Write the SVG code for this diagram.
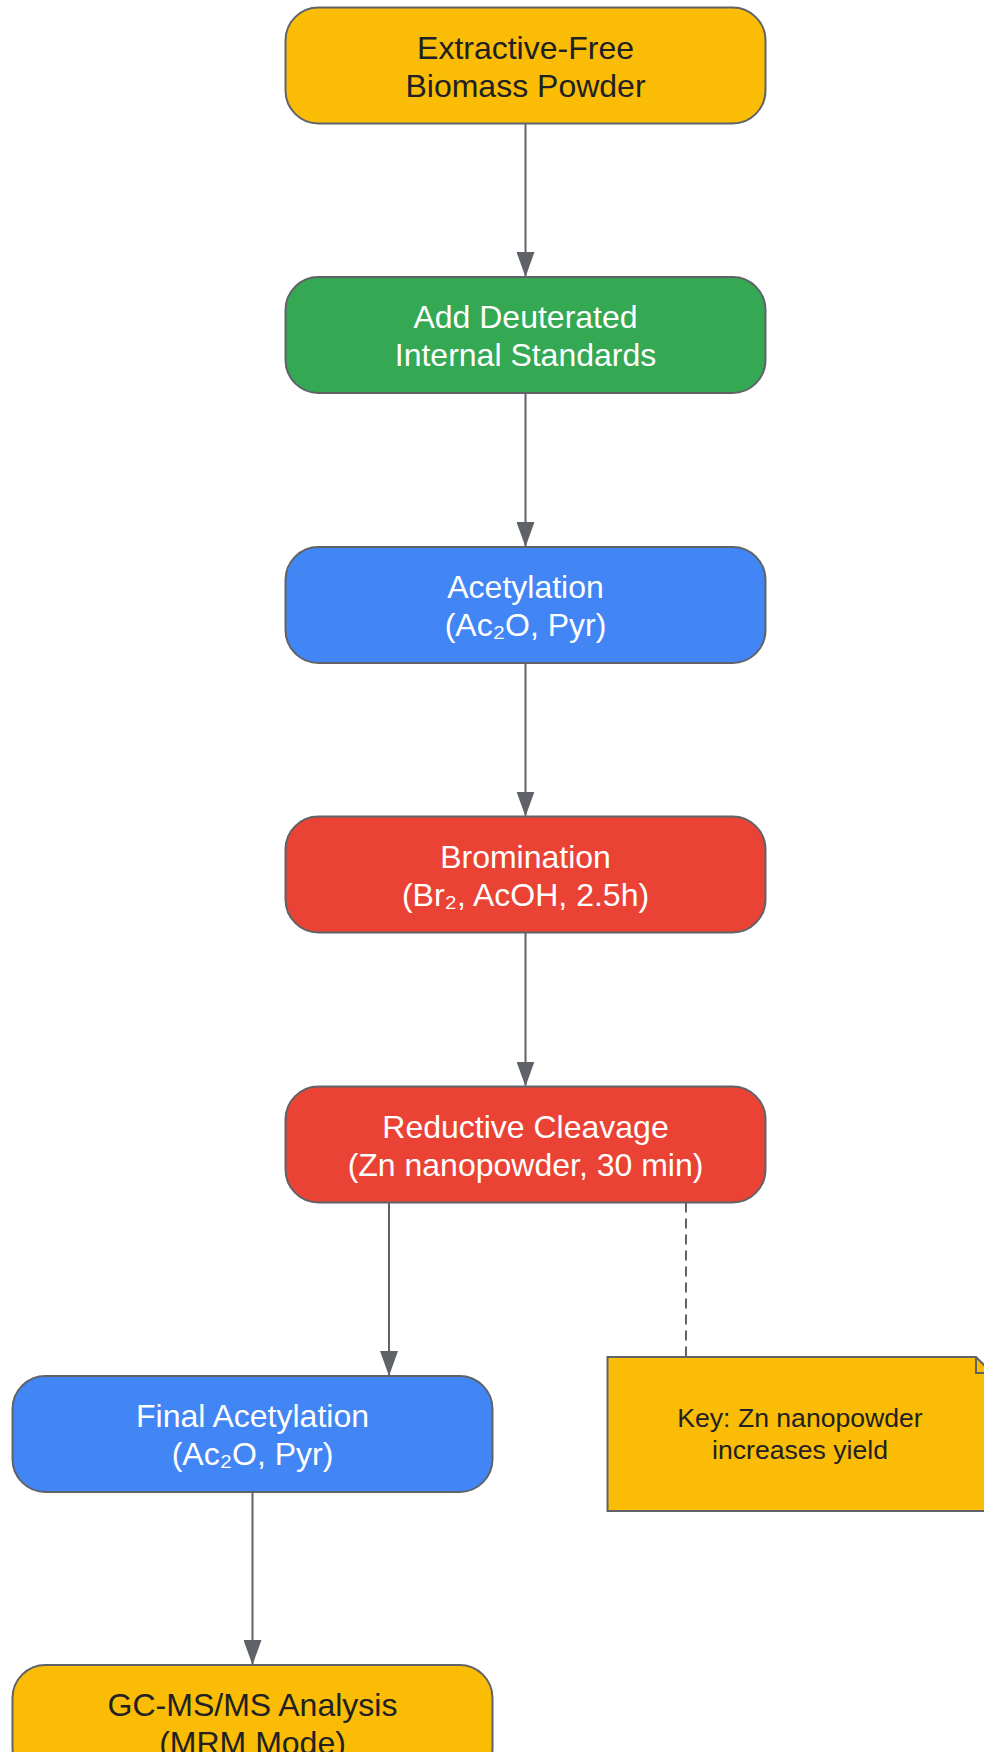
<svg xmlns="http://www.w3.org/2000/svg" width="984" height="1752" viewBox="0 0 984 1752">
<style>
.box{stroke:#5f6368;stroke-width:2}
.yellow{fill:#FBBC05}
.green{fill:#34A853}
.blue{fill:#4285F4}
.red{fill:#EA4335}
.t{font-family:"Liberation Sans",Arial,sans-serif;font-size:32px;text-anchor:middle}
.dark{fill:#202124}
.light{fill:#ffffff}
.nt{font-family:"Liberation Sans",Arial,sans-serif;font-size:26.6px;text-anchor:middle;fill:#202124}
.edge{stroke:#5f6368;stroke-width:2;fill:none}
.dash{stroke-dasharray:10,6}
</style>
<defs>
<marker id="arrow" markerUnits="userSpaceOnUse" markerWidth="26" markerHeight="18" refX="24" refY="9" orient="auto">
<path d="M0,0 L25,9 L0,18 z" fill="#5f6368"/>
</marker>
</defs>
<g id="connectors">
<line class="edge" x1="525.5" y1="123.5" x2="525.5" y2="276" marker-end="url(#arrow)"/>
<line class="edge" x1="525.5" y1="393" x2="525.5" y2="546" marker-end="url(#arrow)"/>
<line class="edge" x1="525.5" y1="663" x2="525.5" y2="815.5" marker-end="url(#arrow)"/>
<line class="edge" x1="525.5" y1="933" x2="525.5" y2="1085.5" marker-end="url(#arrow)"/>
<line class="edge" x1="389" y1="1202.5" x2="389" y2="1375" marker-end="url(#arrow)"/>
<line class="edge dash" x1="686" y1="1202.5" x2="686" y2="1357"/>
<line class="edge" x1="252.5" y1="1492" x2="252.5" y2="1664" marker-end="url(#arrow)"/>
</g>
<g id="n1">
<rect class="box yellow" x="285.5" y="7.5" width="480" height="116" rx="33" ry="33"/>
<text class="t dark" x="525.5" y="58.5">Extractive-Free</text>
<text class="t dark" x="525.5" y="96.5">Biomass Powder</text>
</g>
<g id="n2">
<rect class="box green" x="285.5" y="277" width="480" height="116" rx="33" ry="33"/>
<text class="t light" x="525.5" y="328">Add Deuterated</text>
<text class="t light" x="525.5" y="366">Internal Standards</text>
</g>
<g id="n3">
<rect class="box blue" x="285.5" y="547" width="480" height="116" rx="33" ry="33"/>
<text class="t light" x="525.5" y="598">Acetylation</text>
<text class="t light" x="525.5" y="636">(Ac₂O, Pyr)</text>
</g>
<g id="n4">
<rect class="box red" x="285.5" y="816.5" width="480" height="116" rx="33" ry="33"/>
<text class="t light" x="525.5" y="867.5">Bromination</text>
<text class="t light" x="525.5" y="905.5">(Br₂, AcOH, 2.5h)</text>
</g>
<g id="n5">
<rect class="box red" x="285.5" y="1086.5" width="480" height="116" rx="33" ry="33"/>
<text class="t light" x="525.5" y="1137.5">Reductive Cleavage</text>
<text class="t light" x="525.5" y="1175.5">(Zn nanopowder, 30 min)</text>
</g>
<g id="n6">
<rect class="box blue" x="12.5" y="1376" width="480" height="116" rx="33" ry="33"/>
<text class="t light" x="252.5" y="1427">Final Acetylation</text>
<text class="t light" x="252.5" y="1465">(Ac₂O, Pyr)</text>
</g>
<g id="note">
<path class="box yellow" d="M607.5,1357 L976,1357 L992,1373 L992,1511 L607.5,1511 Z"/>
<path class="box" fill="none" d="M976,1357 L976,1373 L992,1373"/>
<text class="nt" x="800" y="1427">Key: Zn nanopowder</text>
<text class="nt" x="800" y="1459">increases yield</text>
</g>
<g id="n7">
<rect class="box yellow" x="12.5" y="1665" width="480" height="116" rx="33" ry="33"/>
<text class="t dark" x="252.5" y="1716">GC-MS/MS Analysis</text>
<text class="t dark" x="252.5" y="1754">(MRM Mode)</text>
</g>
</svg>
